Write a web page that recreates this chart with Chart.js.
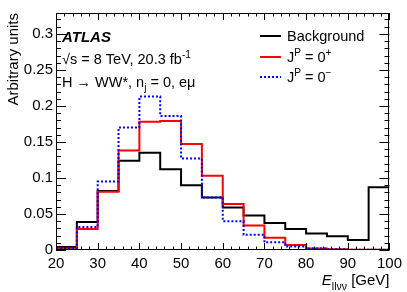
<!DOCTYPE html>
<html>
<head>
<meta charset="utf-8">
<script src="https://cdn.jsdelivr.net/npm/chart.js@4.4.1/dist/chart.umd.min.js"></script>
<style>
html,body{margin:0;padding:0;background:#fff;}
#wrap{width:407px;height:292px;}
</style>
</head>
<body>
<div id="wrap"><canvas id="chart"></canvas></div>
<script>

/* Data */

const binEdges=[20,25,30,35,40,45,50,55,60,65,70,75,80,85,90,95,100];

const background=[0.004,0.039,0.082,0.124,0.135,0.112,0.090,0.073,0.059,0.048,0.0375,0.029,0.023,0.019,0.014,0.087];

const spinPlus=[0.002,0.029,0.081,0.138,0.178,0.179,0.147,0.103,0.064,0.034,0.017,0.007,0.002,0.001,0.0005,0.0003];

const spinMinus=[0.002,0.032,0.095,0.170,0.213,0.186,0.127,0.073,0.040,0.021,0.0106,0.005,0.002,0.001,0.0005,0.0003];

const xTicks=[20,30,40,50,60,70,80,90,100];

const yTicks=[0,0.05,0.1,0.15,0.2,0.25,0.3];

const legendLabels=[
[["Background",""]],
[["J",""],["P","sup"],[" = 0",""],["+","sup"]],
[["J",""],["P","sup"],[" = 0",""],["\u2212","sup"]]
];

const FONT="'Liberation Sans', Arial, sans-serif";

/* Helpers */

// point i sits on the right edge of bin i-1, so the step holds that bin's value
function histPoints(vals){

return binEdges.map((e,i)=>({x:e,y:vals[Math.max(i-1,0)]}));

}

function partFont(mode,size){

if(mode==="sup"||mode==="sub") return (size*0.7)+"px "+FONT;

if(mode==="i") return "italic "+size+"px "+FONT;

if(mode==="bi") return "italic bold "+size+"px "+FONT;

return size+"px "+FONT;

}

function drawParts(ctx,parts,x,y,size,align){

let total=0;

const widths=parts.map(p=>{

ctx.font=partFont(p[1],size);

const w=ctx.measureText(p[0]).width;

total+=w;

return w;

});

let cx=align==="right"?x-total:x;

parts.forEach((p,i)=>{

ctx.font=partFont(p[1],size);

let dy=0;

if(p[1]==="sup") dy=-size*0.4;

if(p[1]==="sub") dy=size*0.3;

ctx.fillText(p[0],cx,y+dy);

cx+=widths[i];

});

}

/* Frame, ticks, labels, legend */

const atlasDecor={

id:"atlasDecor",

afterDraw(chart){

const ctx=chart.ctx;

const {left,right,top,bottom}=chart.chartArea;

const xs=chart.scales.x;

const ys=chart.scales.y;

ctx.save();

ctx.strokeStyle="#000";

ctx.lineWidth=1;

ctx.strokeRect(Math.round(left)+0.5,Math.round(top)+0.5,Math.round(right-left)-1,Math.round(bottom-top)-1);

ctx.beginPath();

for(let v=20;v<=100;v+=2){

const px=Math.round(xs.getPixelForValue(v))+0.5;

const len=(v%10===0)?7:3.5;

ctx.moveTo(px,bottom);ctx.lineTo(px,bottom-len);

ctx.moveTo(px,top);ctx.lineTo(px,top+len);

}

for(let i=0;i<=32;i++){

const py=Math.round(ys.getPixelForValue(i/100))+0.5;

const len=(i%5===0)?10:5;

ctx.moveTo(left,py);ctx.lineTo(left+len,py);

ctx.moveTo(right,py);ctx.lineTo(right-len,py);

}

ctx.stroke();

/* axis titles */

ctx.fillStyle="#000";

ctx.textBaseline="alphabetic";

drawParts(ctx,[["E","i"],["ll\u03bd\u03bd","sub"],[" [GeV]",""]],right,285,15,"right");

ctx.translate(18,top);

ctx.rotate(-Math.PI/2);

ctx.textAlign="right";

ctx.font="15px "+FONT;

ctx.fillText("Arbitrary units",0,0);

ctx.setTransform(1,0,0,1,0,0);

ctx.textAlign="left";

/* info text */

const tx=left+6;

drawParts(ctx,[["ATLAS","bi"]],tx,42,15,"left");

drawParts(ctx,[["\u221as = 8 TeV, 20.3 fb",""],["-1","sup"]],tx,64,14.5,"left");

drawParts(ctx,[["H \u2192 WW*, n",""],["j","sub"],[" = 0, e\u03bc",""]],tx,87,14.5,"left");

/* legend */

const rows=[36,57,77];

chart.data.datasets.forEach((ds,i)=>{

ctx.beginPath();

ctx.strokeStyle=ds.borderColor;

ctx.lineWidth=2;

ctx.setLineDash(ds.borderDash||[]);

ctx.moveTo(260,rows[i]);

ctx.lineTo(281,rows[i]);

ctx.stroke();

ctx.setLineDash([]);

drawParts(ctx,legendLabels[i],287,rows[i]+5,14.5,"left");

});

ctx.restore();

}

};

/* Chart */

new Chart(document.getElementById("chart"),{

type:"line",

data:{

datasets:[

{label:"Background",data:histPoints(background),borderColor:"#000000",borderWidth:2,stepped:"after",pointRadius:0,fill:false,order:3},

{label:"0+",data:histPoints(spinPlus),borderColor:"#ff0000",borderWidth:2,stepped:"after",pointRadius:0,fill:false,order:2},

{label:"0-",data:histPoints(spinMinus),borderColor:"#0000ff",borderWidth:2,borderDash:[2,2],stepped:"after",pointRadius:0,fill:false,order:1}

]

},

options:{

responsive:true,

maintainAspectRatio:false,

animation:false,

layout:{padding:{top:13,right:17,left:0,bottom:0}},

plugins:{legend:{display:false},tooltip:{enabled:false}},

scales:{

x:{

type:"linear",

min:20,

max:100,

afterBuildTicks:s=>{s.ticks=xTicks.map(v=>({value:v}));},

afterFit:s=>{s.height=42;},

grid:{display:false,drawTicks:false},

border:{display:false},

ticks:{font:{family:FONT,size:15},color:"#000",padding:5,maxRotation:0,autoSkip:false}

},

y:{

min:0,

max:0.329,

afterBuildTicks:s=>{s.ticks=yTicks.map(v=>({value:v}));},

afterFit:s=>{s.width=56;},

grid:{display:false,drawTicks:false},

border:{display:false},

ticks:{font:{family:FONT,size:15},color:"#000",padding:3,callback:v=>String(+v.toFixed(2))}

}

}

},

plugins:[atlasDecor]

});

</script>
</body>
</html>
